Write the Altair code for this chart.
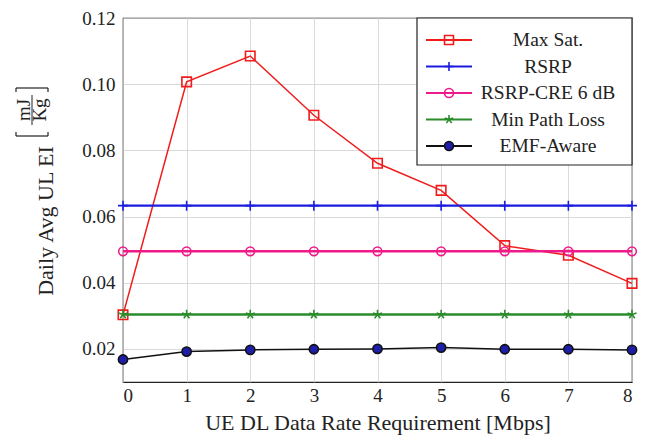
import altair as alt
import pandas as pd

# ---- data ----
rates = [0, 1, 2, 3, 4, 5, 6, 7, 8]
series_names = ["Max Sat.", "RSRP", "RSRP-CRE 6 dB", "Min Path Loss", "EMF-Aware"]
max_sat = [0.0303, 0.1007, 0.1085, 0.0906, 0.0761, 0.0679, 0.0512, 0.0483, 0.0398]
rsrp = [0.0633, 0.0633, 0.0633, 0.0633, 0.0633, 0.0633, 0.0633, 0.0633, 0.0633]
rsrp_cre = [0.0495, 0.0495, 0.0495, 0.0495, 0.0495, 0.0495, 0.0495, 0.0495, 0.0495]
min_pl = [0.0304, 0.0304, 0.0304, 0.0304, 0.0304, 0.0304, 0.0304, 0.0304, 0.0304]
emf = [0.0168, 0.0192, 0.0197, 0.0199, 0.0200, 0.0204, 0.0199, 0.0199, 0.0197]
y_ticks = [0.02, 0.04, 0.06, 0.08, 0.10, 0.12]

values = [max_sat, rsrp, rsrp_cre, min_pl, emf]
rows = []
for name, vals in zip(series_names, values):
    for x, v in zip(rates, vals):
        rows.append({"rate": x, "ei": v, "series": name})
df = pd.DataFrame(rows)
legend_df = pd.DataFrame({"series": series_names, "row": list(range(len(series_names)))})

# ---- styles ----
FONT = "Liberation Serif"
line_colors = ["#f01c1c", "#1c1ce0", "#ee1a8a", "#2a8c2a", "#111111"]
fill_colors = ["transparent", "transparent", "transparent", "transparent", "#1e1ea8"]
star = "M0,-1L0,0M0,0L0.951,-0.309M0,0L0.588,0.809M0,0L-0.588,0.809M0,0L-0.951,-0.309"
plus = "M-1,0L1,0M0,-1L0,1"
shapes = ["square", plus, "circle", star, "circle"]
sizes = [90, 100, 75, 90, 85]
widths = [1.5, 2.2, 2.4, 2.4, 1.5]

stroke_enc = alt.Stroke("series:N", scale=alt.Scale(domain=series_names, range=line_colors), legend=None)
fill_enc = alt.Fill("series:N", scale=alt.Scale(domain=series_names, range=fill_colors), legend=None)
shape_enc = alt.Shape("series:N", scale=alt.Scale(domain=series_names, range=shapes), legend=None)

x_enc = alt.X("rate:Q", title="UE DL Data Rate Requirement [Mbps]",
              scale=alt.Scale(domain=[0, 8], nice=False),
              axis=alt.Axis(values=rates, format="d", grid=True, tickSize=0,
                            labelPadding=4, titlePadding=7))
y_enc = alt.Y("ei:Q", title=None,
              scale=alt.Scale(domain=[0.01, 0.12], nice=False, zero=False),
              axis=alt.Axis(values=y_ticks, format=".2f", grid=True, tickSize=0,
                            labelPadding=8))

base = alt.Chart(df)
main_layers = []
for i, name in enumerate(series_names):
    sub = base.transform_filter(alt.datum.series == name)
    main_layers.append(
        sub.mark_line(strokeWidth=widths[i]).encode(x=x_enc, y=y_enc, stroke=stroke_enc)
    )
    main_layers.append(
        sub.mark_point(size=sizes[i], strokeWidth=1.6, opacity=1, filled=False).encode(
            x=x_enc, y=y_enc, stroke=stroke_enc, fill=fill_enc, shape=shape_enc)
    )
main = alt.layer(*main_layers)

# ---- legend (drawn by hand) ----
one = pd.DataFrame({"a": [0]})
leg_box = alt.Chart(one).mark_rect(fill="white", stroke="#222222", strokeWidth=1.2).encode(
    x=alt.value(294), x2=alt.value(509), y=alt.value(0), y2=alt.value(147))
row_y = alt.Y("row:Q", scale=alt.Scale(domain=[0, 4], range=[22, 128]), axis=None)
leg = alt.Chart(legend_df)
leg_lines = leg.mark_rule(strokeWidth=2).encode(
    x=alt.value(303), x2=alt.value(349), y=row_y, stroke=stroke_enc)
leg_pts = leg.mark_point(size=80, strokeWidth=1.6, opacity=1).encode(
    x=alt.value(326), y=row_y, stroke=stroke_enc, fill=fill_enc, shape=shape_enc)
leg_txt = leg.mark_text(font=FONT, fontSize=19.5, align="center", baseline="middle",
                        color="#222222").encode(
    x=alt.value(425), y=row_y, text="series:N")
legend = alt.layer(leg_box, leg_lines, leg_pts, leg_txt)

# ---- y-axis title with fraction ----
ytitle = alt.Chart(one).mark_text(text="Daily Avg UL EI", font=FONT, fontSize=22, angle=270,
                                  align="center", baseline="middle", color="#222222").encode(
    x=alt.value(-77), y=alt.value(203))
num = alt.Chart(one).mark_text(text="mJ", font=FONT, fontSize=19, angle=270,
                               align="center", baseline="middle", color="#222222").encode(
    x=alt.value(-99), y=alt.value(92))
den = alt.Chart(one).mark_text(text="Kg", font=FONT, fontSize=19, angle=270,
                               align="center", baseline="middle", color="#222222").encode(
    x=alt.value(-83), y=alt.value(92))
bar = alt.Chart(one).mark_rule(color="#222222", strokeWidth=1).encode(
    x=alt.value(-91), y=alt.value(77), y2=alt.value(107))
br_rules = []
for (xa, xb, ya) in [(-107, -75, 118), (-107, -75, 70)]:
    br_rules.append(alt.Chart(one).mark_rule(color="#222222", strokeWidth=1.2).encode(
        x=alt.value(xa), x2=alt.value(xb), y=alt.value(ya)))
for (xa, ya, yb) in [(-107, 114, 118), (-75, 114, 118), (-107, 70, 74), (-75, 70, 74)]:
    br_rules.append(alt.Chart(one).mark_rule(color="#222222", strokeWidth=1.2).encode(
        x=alt.value(xa), y=alt.value(ya), y2=alt.value(yb)))
ylab = alt.layer(ytitle, num, den, bar, *br_rules)

chart = alt.layer(main, legend, ylab).resolve_scale(y="independent").properties(
    width=509, height=364,
    autosize=alt.AutoSizeParams(type="none"),
    padding={"left": 115, "top": 10, "right": 7, "bottom": 56},
    background="white",
).configure_view(stroke="#222222", strokeWidth=1.2).configure_axis(
    labelFont=FONT, titleFont=FONT, labelFontSize=19, titleFontSize=22,
    labelColor="#222222", titleColor="#222222", titleFontWeight="normal",
    gridColor="#d0d0d0", gridWidth=0.8, domain=False,
)

chart.save("out.html", embed_options={"renderer": "svg", "actions": False})
